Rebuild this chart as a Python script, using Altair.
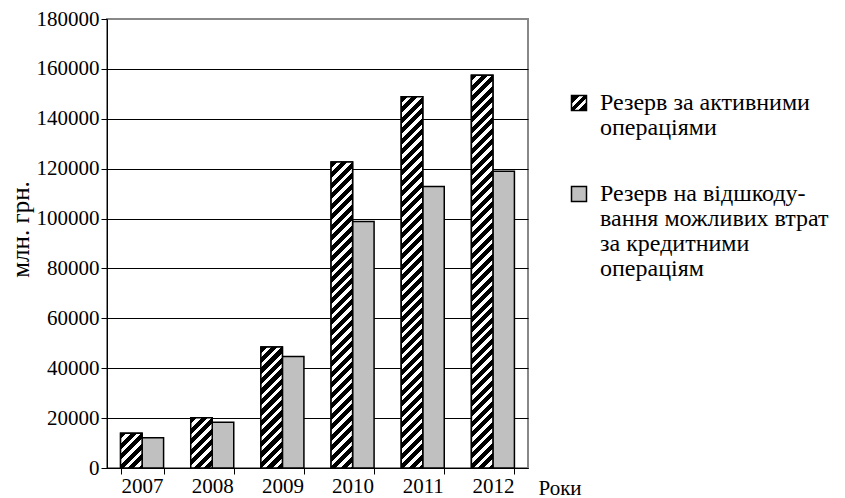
import altair as alt

# ---- data ----
years = ["2007", "2008", "2009", "2010", "2011", "2012"]
active = [13900, 20100, 48500, 122700, 148800, 157400]   # Резерв за активними операціями
credit = [12100, 18300, 44700, 98800, 112900, 119000]    # Резерв на відшкодування ...
series = [
    "Резерв за активними операціями",
    "Резерв на відшкодування можливих втрат за кредитними операціям",
]
legend_lines = [
    ["Резерв за активними", "операціями"],
    ["Резерв на відшкоду-", "вання можливих втрат", "за кредитними", "операціям"],
]
y_ticks = [0, 20000, 40000, 60000, 80000, 100000, 120000, 140000, 160000, 180000]
y_title = "млн. грн."
x_title = "Роки"

# ---- layout / style ----
W, H = 421, 449
YMAX = 180000
PAD_INNER = 0.387
FONT = "Liberation Serif"
FS = 21
GRAY = "#c0c0c0"
PERIOD = 10.5   # stripe period along x+y (px)
WHITE = 0.42    # white fraction of a period

bar_w = W / len(years) * (1 - PAD_INNER) / 2


def hatch(h, w=bar_w):
    L = w + h
    stops = []
    s = 0.0
    while s < L - 1e-9:
        a = min(s + PERIOD * (1 - WHITE), L)
        b = min(s + PERIOD, L)
        stops.append({"offset": round(s / L, 5), "color": "black"})
        stops.append({"offset": round(a / L, 5), "color": "black"})
        if b > a:
            stops.append({"offset": round(a / L, 5), "color": "white"})
            stops.append({"offset": round(b / L, 5), "color": "white"})
        s += PERIOD
    k = (w + h) / (w * w + h * h)
    return {"gradient": "linear", "x1": 0, "y1": 0,
            "x2": round(w * k, 6), "y2": round(h * k, 6), "stops": stops}


rows = []
for i, yr in enumerate(years):
    rows.append({"year": yr, "series": series[0], "value": active[i]})
    rows.append({"year": yr, "series": series[1], "value": credit[i]})

hatched_rows = [
    {"year": yr, "series": series[0], "value": active[i],
     "grad": hatch(active[i] / YMAX * H)}
    for i, yr in enumerate(years)
]

legend_grad = (
    "{gradient: 'linear', x1: 0, y1: 0, x2: 1, y2: 1, stops: ["
    "{offset: 0, color: 'black'}, {offset: 0.28, color: 'black'},"
    "{offset: 0.28, color: 'white'}, {offset: 0.42, color: 'white'},"
    "{offset: 0.42, color: 'black'}, {offset: 0.58, color: 'black'},"
    "{offset: 0.58, color: 'white'}, {offset: 0.72, color: 'white'},"
    "{offset: 0.72, color: 'black'}, {offset: 1, color: 'black'}]}"
)


def js_arr(lines):
    return "[" + ", ".join("'" + l + "'" for l in lines) + "]"


label_expr = (f"datum.label === '{series[0]}' ? {js_arr(legend_lines[0])} "
              f": {js_arr(legend_lines[1])}")

x_enc = alt.X(
    "year:N", title=x_title,
    scale=alt.Scale(paddingInner=PAD_INNER, paddingOuter=PAD_INNER / 2),
    axis=alt.Axis(
        labelAngle=0, tickBand="extent", tickSize=6, tickColor="black",
        domainColor="black", labelFont=FONT, labelFontSize=FS, labelColor="black",
        labelPadding=1, grid=False,
        titleFont=FONT, titleFontSize=FS, titleFontWeight="normal", titleColor="black",
        titleX=431, titleY=26, titleAlign="left", titleBaseline="alphabetic",
    ),
)
xo_enc = alt.XOffset("series:N", scale=alt.Scale(domain=series, paddingInner=0, paddingOuter=0))
y_enc = alt.Y(
    "value:Q", title=y_title,
    scale=alt.Scale(domain=[0, YMAX], nice=False),
    axis=alt.Axis(
        values=y_ticks, format="d", tickSize=6, tickColor="black", domainColor="black",
        labelFont=FONT, labelFontSize=FS, labelColor="black", labelPadding=2,
        gridColor={"condition": {"test": "datum.value >= 180000", "value": "#888888"},
                   "value": "black"},
        titleFont=FONT, titleFontSize=25, titleFontWeight="normal", titleColor="black",
        titleX=-74, titleY=210,
    ),
)

bars = alt.Chart(alt.Data(values=rows)).mark_bar(stroke="black", strokeWidth=1.5).encode(
    x=x_enc, xOffset=xo_enc, y=y_enc,
    fill=alt.Fill(
        "series:N",
        scale=alt.Scale(domain=series, range=[alt.ExprRef(expr=legend_grad), GRAY]),
        legend=alt.Legend(
            title=None, orient="none", legendX=460, legendY=72, padding=0,
            symbolType="square", symbolSize=225, symbolStrokeColor="black",
            symbolStrokeWidth=1.5, symbolOpacity=1,
            labelFont=FONT, labelFontSize=24, labelColor="black", labelLimit=500,
            labelOffset=9, labelExpr=label_expr, rowPadding=42,
        ),
    ),
)

hatched = alt.Chart(alt.Data(values=hatched_rows)).mark_bar(stroke="black", strokeWidth=1.5).encode(
    x=x_enc, xOffset=xo_enc, y=y_enc,
    fill=alt.Fill("grad:N", scale=None),
)

chart = alt.layer(bars, hatched).properties(
    width=W, height=H,
    padding={"left": 0, "top": 0, "right": 5, "bottom": 0},
).configure(
    background="white", font=FONT,
    style={"guide-label": {"lineHeight": 25}},
).configure_axis(
    labelFont=FONT, titleFont=FONT,
).configure_legend(
    labelFont=FONT,
).configure_view(stroke="#888888", strokeWidth=2)

chart.save("out.html", embed_options={"renderer": "svg", "actions": False})
